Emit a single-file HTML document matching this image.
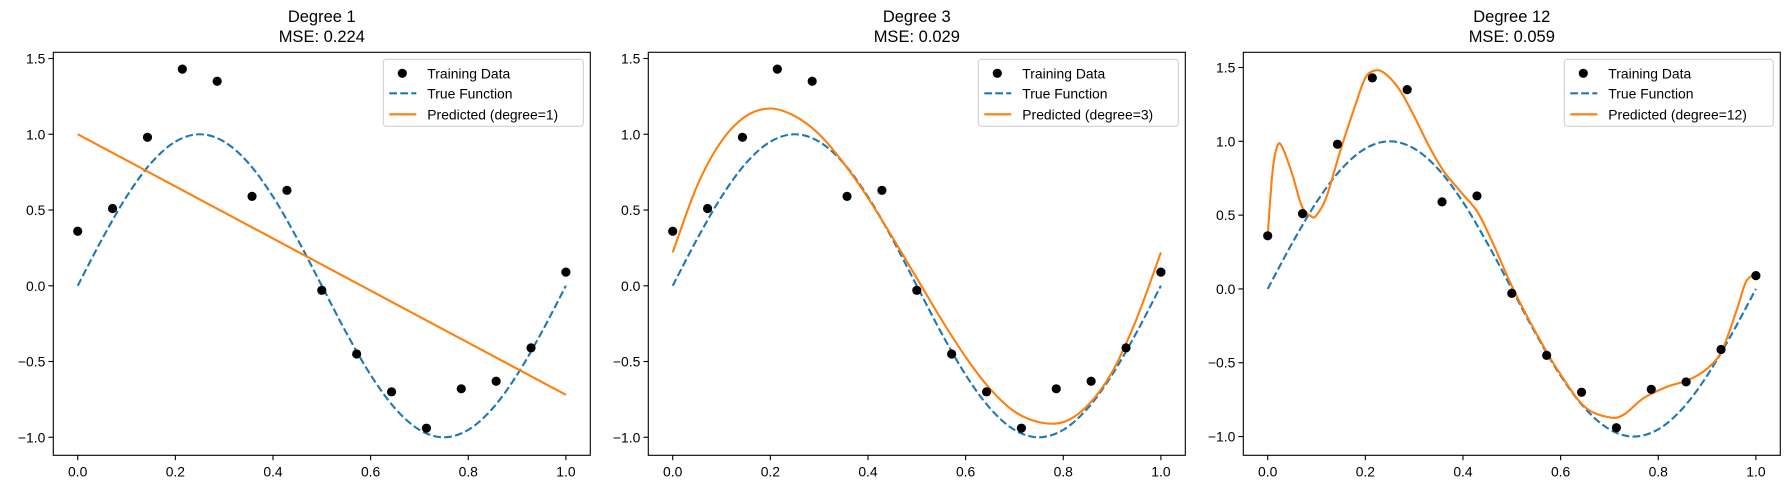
<!DOCTYPE html>
<html><head><meta charset="utf-8"><style>
html,body{margin:0;padding:0;background:#fff;}
svg{display:block;font-family:"Liberation Sans","DejaVu Sans",sans-serif;}
</style></head><body>
<svg id="chart" width="1790" height="489" viewBox="0 0 1790 489" xmlns="http://www.w3.org/2000/svg"></svg>
<script>
const trainX = [0,0.0714,0.1429,0.2143,0.2857,0.3571,0.4286,0.5,0.5714,0.6429,0.7143,0.7857,0.8571,0.9286,1.0];
const trainY = [0.36,0.51,0.98,1.43,1.35,0.59,0.63,-0.03,-0.45,-0.70,-0.94,-0.68,-0.63,-0.41,0.09];
const trueX = [0,0.05,0.1,0.15,0.2,0.25,0.3,0.35,0.4,0.45,0.5,0.55,0.6,0.65,0.7,0.75,0.8,0.85,0.9,0.95,1.0];
const trueY = [0,0.309,0.588,0.809,0.951,1.0,0.951,0.809,0.588,0.309,0,-0.309,-0.588,-0.809,-0.951,-1.0,-0.951,-0.809,-0.588,-0.309,0];
const pred1X = [0,1];
const pred1Y = [1.0,-0.72];
const pred3X = [0,0.05,0.1,0.15,0.2,0.25,0.3,0.35,0.4,0.45,0.5,0.55,0.6,0.65,0.7,0.75,0.8,0.85,0.9,0.95,1.0];
const pred3Y = [0.22,0.66,0.955,1.12,1.17,1.12,1.0,0.81,0.58,0.32,0.05,-0.22,-0.47,-0.68,-0.83,-0.90,-0.90,-0.79,-0.57,-0.22,0.22];
const pred12X = [0,0.01,0.02,0.03,0.05,0.07,0.09,0.1,0.12,0.15,0.18,0.2,0.22,0.24,0.27,0.3,0.33,0.36,0.4,0.43,0.46,0.5,0.55,0.6,0.65,0.7,0.73,0.77,0.82,0.86,0.9,0.93,0.96,0.98,1.0];
const pred12Y = [0.36,0.8,0.97,0.96,0.78,0.56,0.49,0.5,0.62,0.95,1.25,1.43,1.48,1.46,1.35,1.17,0.97,0.80,0.64,0.52,0.32,0.02,-0.30,-0.58,-0.80,-0.87,-0.85,-0.74,-0.66,-0.62,-0.54,-0.42,-0.15,0.05,0.10];
const titles = ["Degree 1","Degree 3","Degree 12"];
const mseLabels = ["MSE: 0.224","MSE: 0.029","MSE: 0.059"];
const degreeLabels = ["Predicted (degree=1)","Predicted (degree=3)","Predicted (degree=12)"];
const xTicks = [0,0.2,0.4,0.6,0.8,1.0];
const xTickLabels = ["0.0","0.2","0.4","0.6","0.8","1.0"];
const yTicks = [-1.0,-0.5,0,0.5,1.0,1.5];
const yTickLabels = ["\u22121.0","\u22120.5","0.0","0.5","1.0","1.5"];
const yMins = [-1.119,-1.119,-1.127];
const yMaxs = [1.541,1.541,1.603];

const NS="http://www.w3.org/2000/svg";
const svg=document.getElementById('chart');
function mk(tag,attrs,parent){const e=document.createElementNS(NS,tag);for(const k in attrs)e.setAttribute(k,attrs[k]);(parent||svg).appendChild(e);return e;}
function smooth(pts){
  if(pts.length<3) return "M"+pts.map(p=>p[0].toFixed(2)+","+p[1].toFixed(2)).join("L");
  let d="M"+pts[0][0].toFixed(2)+","+pts[0][1].toFixed(2);
  for(let i=0;i<pts.length-1;i++){
    const p0=pts[Math.max(0,i-1)],p1=pts[i],p2=pts[i+1],p3=pts[Math.min(pts.length-1,i+2)];
    const c1=[p1[0]+(p2[0]-p0[0])/6,p1[1]+(p2[1]-p0[1])/6];
    const c2=[p2[0]-(p3[0]-p1[0])/6,p2[1]-(p3[1]-p1[1])/6];
    d+="C"+c1[0].toFixed(2)+","+c1[1].toFixed(2)+" "+c2[0].toFixed(2)+","+c2[1].toFixed(2)+" "+p2[0].toFixed(2)+","+p2[1].toFixed(2);
  }
  return d;
}
const predXs=[pred1X,pred3X,pred12X], predYs=[pred1Y,pred3Y,pred12Y];
const lefts=[53.3,648.3,1243.3], W=537, axTop=52.3, axBottom=455.3;
for(let p=0;p<3;p++){
  const L=lefts[p];
  const g=mk('g',{});
  
  
  const sx=x=>L+(x+0.05)/1.1*W;
  const sy=y=>axBottom-(y-yMins[p])/(yMaxs[p]-yMins[p])*(axBottom-axTop);
  const defs=mk('defs',{},g);
  const cp=mk('clipPath',{id:'clip'+p},defs);
  mk('rect',{x:L,y:axTop,width:W,height:axBottom-axTop},cp);
  const t1=mk('text',{x:L+W/2,y:22,'text-anchor':'middle','font-size':'16.5',fill:'#000'},g);t1.textContent=titles[p];
  
  
  const t2=mk('text',{x:L+W/2,y:42,'text-anchor':'middle','font-size':'16.5',fill:'#000'},g);t2.textContent=mseLabels[p];
  
  
  xTicks.forEach((v,i)=>{const x=sx(v);
    mk('line',{x1:x,x2:x,y1:axBottom,y2:axBottom+4.9,stroke:'#000','stroke-width':1.1},g);
    const t=mk('text',{x:x,y:axBottom+21,'text-anchor':'middle','font-size':'13.9',fill:'#000'},g);t.textContent=xTickLabels[i];
    
    
  });
  yTicks.forEach((v,i)=>{const y=sy(v);
    mk('line',{x1:L-4.9,x2:L,y1:y,y2:y,stroke:'#000','stroke-width':1.1},g);
    const t=mk('text',{x:L-8,y:y+5,'text-anchor':'end','font-size':'13.9',fill:'#000'},g);t.textContent=yTickLabels[i];
    
    
  });
  const cg=mk('g',{'clip-path':'url(#clip'+p+')'},g);
  const tf=mk('path',{d:smooth(trueX.map((x,i)=>[sx(x),sy(trueY[i])])),fill:'none',stroke:'#1f77b4','stroke-width':2.1,'stroke-dasharray':'7.7,3.3'},cg);
  
  
  const pr=mk('path',{d:smooth(predXs[p].map((x,i)=>[sx(x),sy(predYs[p][i])])),fill:'none',stroke:'#ff7f0e','stroke-width':2.1,'stroke-linejoin':'round'},cg);
  
  
  trainX.forEach((x,i)=>{const c=mk('circle',{cx:sx(x),cy:sy(trainY[i]),r:4.6,fill:'#000'},g);
    
    
  });
  const fr=mk('rect',{x:L,y:axTop,width:W,height:axBottom-axTop,fill:'none',stroke:'#000','stroke-width':1.1},g);
  
  
  const lw=p===2?209:200, lh=67, lx=L+W-7-lw, ly=axTop+7;
  const lg=mk('g',{},g);
  
  
  mk('rect',{x:lx,y:ly,width:lw,height:lh,rx:3,fill:'#fff','fill-opacity':0.8,stroke:'#ccc','stroke-width':1},lg);
  const rows=[ly+14,ly+34,ly+55];
  mk('circle',{cx:lx+19,cy:rows[0],r:4.6,fill:'#000'},lg);
  mk('line',{x1:lx+6,x2:lx+33,y1:rows[1],y2:rows[1],stroke:'#1f77b4','stroke-width':2.1,'stroke-dasharray':'7.7,3.3'},lg);
  mk('line',{x1:lx+6,x2:lx+33,y1:rows[2],y2:rows[2],stroke:'#ff7f0e','stroke-width':2.1},lg);
  ["Training Data","True Function",degreeLabels[p]].forEach((s,i)=>{
    const t=mk('text',{x:lx+44,y:rows[i]+5,'font-size':'13.9',fill:'#000'},lg);t.textContent=s;
    
    
  });
}
</script>
</body></html>
